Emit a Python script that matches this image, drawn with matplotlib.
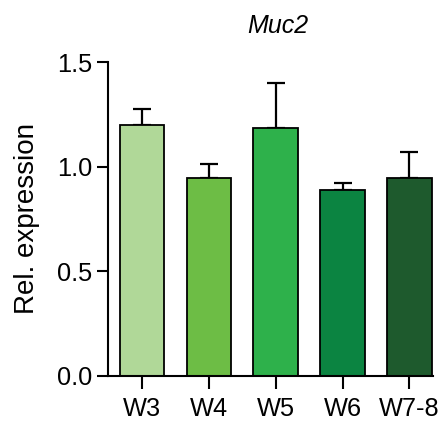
import matplotlib
matplotlib.use('Agg')
import matplotlib.pyplot as plt
import numpy as np

plt.rcParams['font.family'] = ['Liberation Sans', 'DejaVu Sans']

# data
groups = ['W3', 'W4', 'W5', 'W6', 'W7-8']
means = [1.20, 0.947, 1.186, 0.887, 0.944]
errs = [0.076, 0.064, 0.212, 0.036, 0.126]
colors = ['#b0d898', '#6dbd45', '#2eb14b', '#0b8441', '#1e5a2d']

fig = plt.figure(figsize=(4.43, 4.30), dpi=100)
ax = fig.add_axes([0.2438, 0.1256, 0.7332, 0.7302])

x = np.arange(len(groups))
ax.bar(x, means, width=0.67, color=colors, edgecolor='black', linewidth=1.3, zorder=2)
ax.errorbar(x, means, yerr=[np.zeros(len(errs)), errs], fmt='none',
            ecolor='black', elinewidth=1.6, capsize=6.5, capthick=1.6, zorder=1)

ax.set_xlim(-0.51, 4.35)
ax.set_ylim(0, 1.5)
ax.set_yticks([0.0, 0.5, 1.0, 1.5])
ax.set_yticklabels(['0.0', '0.5', '1.0', '1.5'])
ax.set_xticks(x)
ax.set_xticklabels(groups)

for s in ['top', 'right']:
    ax.spines[s].set_visible(False)
for s in ['left', 'bottom']:
    ax.spines[s].set_linewidth(1.5)

fs = 18.3
ax.tick_params(axis='y', length=8, width=1.5, labelsize=fs, pad=3)
ax.tick_params(axis='x', length=9, width=1.5, labelsize=fs, pad=6)

ax.set_ylabel('Rel. expression', fontsize=20, labelpad=12.5)
ax.set_title('Muc2', fontsize=18, style='italic', pad=21, x=0.523)

fig.savefig('out.png', dpi=100)
